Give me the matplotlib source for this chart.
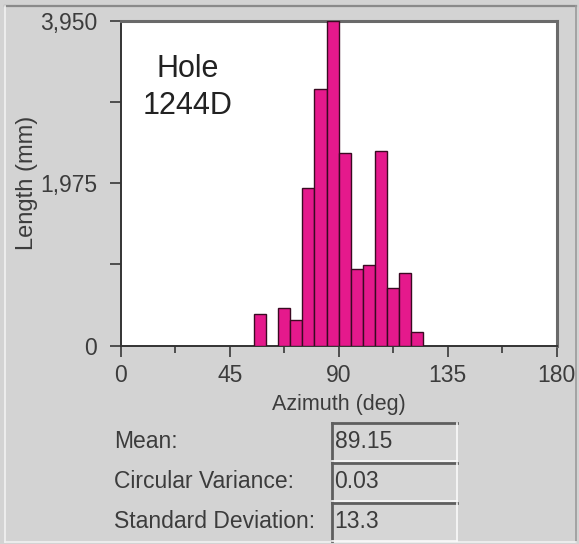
import numpy as np
import matplotlib.pyplot as plt
from matplotlib.patches import Rectangle
from matplotlib.lines import Line2D

# azimuth bins (left edges, deg) and summed fracture length per bin (mm)
bin_left = [55, 65, 70, 75, 80, 85, 90, 95, 100, 105, 110, 115, 120]
lengths = [383, 456, 313, 1919, 3126, 3950, 2349, 931, 980, 2365, 695, 883, 171]
bin_width = 5

hole_name = "Hole\n1244D"
x_ticks = [0, 45, 90, 135, 180]
y_ticks = [0, 1975, 3950]

stat_names = ["Mean:", "Circular Variance:", "Standard Deviation:"]
stat_values = ["89.15", "0.03", "13.3"]

W, H = 579, 544
bg = "#d3d3d3"
txt = "#3c3c3c"
plt.rcParams['font.family'] = ['Liberation Sans', 'DejaVu Sans']

fig = plt.figure(figsize=(W / 100, H / 100), dpi=100, facecolor=bg)

# panel frame: dark line top/left, light line bottom/right
fig.add_artist(Line2D([5 / W, 576 / W], [1 - 6 / H, 1 - 6 / H], color="#8a8a8a", lw=1.6))
fig.add_artist(Line2D([5 / W, 5 / W], [1 - 6 / H, 2 / H], color="#f2f2f2", lw=1.2))
fig.add_artist(Line2D([576 / W, 576 / W], [1 - 6 / H, 2 / H], color="#9a9a9a", lw=1.2))
fig.add_artist(Line2D([5 / W, 576 / W], [2 / H, 2 / H], color="#f2f2f2", lw=1.2))

ax = fig.add_axes([120.7 / W, 1 - 345.6 / H, 436 / W, 324.6 / H])
ax.set_facecolor("white")
ax.bar(bin_left, lengths, width=bin_width, align="edge",
       color="#e5198c", edgecolor="#3a0a22", linewidth=1.0, zorder=3)

ax.set_xlim(0, 180)
ax.set_ylim(0, max(lengths))
ax.set_xticks(x_ticks)
ax.set_xticks(np.arange(22.5, 180, 45), minor=True)
ax.set_yticks(y_ticks)
ax.set_yticks([987.5, 2962.5], minor=True)
ax.set_yticklabels([f"{v:,}" for v in y_ticks])
ax.tick_params(axis="both", which="major", direction="out", length=8, width=1.3,
               color="#444444", labelcolor=txt, labelsize=16.5)
ax.tick_params(axis="x", which="major", pad=5)
ax.tick_params(axis="y", which="major", pad=9)
ax.tick_params(axis="x", which="minor", direction="out", length=5, width=1.3, color="#444444")
ax.tick_params(axis="y", which="minor", direction="out", length=8, width=1.3, color="#444444")

for side in ["left", "bottom"]:
    ax.spines[side].set_color("#333333")
    ax.spines[side].set_linewidth(1.4)
for side in ["top", "right"]:
    ax.spines[side].set_color("#6a6a6a")
    ax.spines[side].set_linewidth(2.2)

ax.set_xlabel("Azimuth (deg)", fontsize=15.5, color=txt, labelpad=5)
ax.set_ylabel("Length (mm)", fontsize=17, color=txt, labelpad=1)

ax.text(0.154, 0.795, hole_name, transform=ax.transAxes, ha="center", va="center",
        fontsize=22, color="#222222", linespacing=1.3)

# statistics read-out boxes
for i, (name, val) in enumerate(zip(stat_names, stat_values)):
    top = 423 + i * 40
    bottom = top + 38
    x0, x1 = 331.5, 457
    fig.text(114 / W, 1 - (top + 19) / H, name, ha="left", va="center",
             fontsize=16.5, color=txt)
    fig.add_artist(Rectangle((x0 / W, 1 - bottom / H), (x1 - x0) / W, 38 / H,
                             facecolor="#d6d6d6", edgecolor="none"))
    fig.add_artist(Line2D([x0 / W, x1 / W], [1 - top / H] * 2, color="#5e5e5e", lw=2))
    fig.add_artist(Line2D([x0 / W] * 2, [1 - top / H, 1 - bottom / H], color="#5e5e5e", lw=2))
    fig.add_artist(Line2D([x0 / W, x1 / W], [1 - bottom / H] * 2, color="#fafafa", lw=1.2))
    fig.add_artist(Line2D([x1 / W] * 2, [1 - top / H, 1 - bottom / H], color="#fafafa", lw=1.2))
    fig.text((x0 + 3) / W, 1 - (top + 19) / H, val, ha="left", va="center",
             fontsize=16.5, color=txt)

fig.savefig("out.png", dpi=100, facecolor=bg)
